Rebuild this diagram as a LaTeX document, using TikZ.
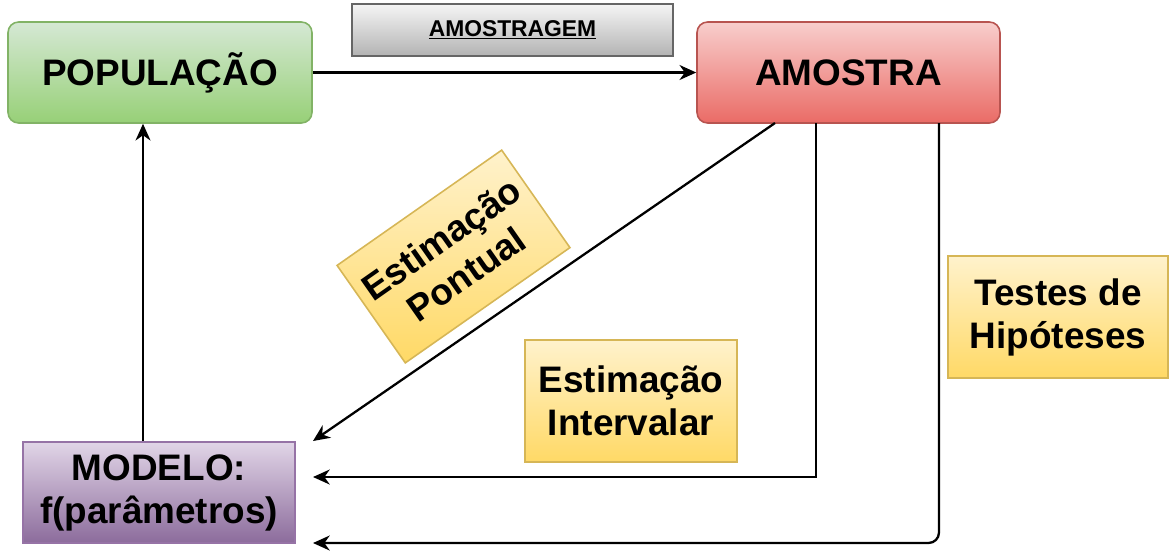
\documentclass[tikz,border=0pt]{standalone}
\usepackage{fontspec}
\setmainfont{Liberation Sans}
\usetikzlibrary{arrows.meta}

\definecolor{verdeA}{HTML}{D5E8D4}
\definecolor{verdeB}{HTML}{97D077}
\definecolor{verdeL}{HTML}{82B366}
\definecolor{vermA}{HTML}{F8CECC}
\definecolor{vermB}{HTML}{EA6B66}
\definecolor{vermL}{HTML}{B85450}
\definecolor{cinzaA}{HTML}{F5F5F5}
\definecolor{cinzaB}{HTML}{B3B3B3}
\definecolor{cinzaL}{HTML}{666666}
\definecolor{roxoA}{HTML}{E1D5E7}
\definecolor{roxoB}{HTML}{8C6C9C}
\definecolor{roxoL}{HTML}{9673A6}
\definecolor{amarA}{HTML}{FFF2CC}
\definecolor{amarB}{HTML}{FFD966}
\definecolor{amarL}{HTML}{D6B656}

\tikzset{
  caixa/.style={draw, line width=0.9pt, align=center, inner sep=0pt,
    font=\bfseries\fontsize{21}{24.5}\selectfont},
  verde/.style={caixa, draw=verdeL, top color=verdeA, bottom color=verdeB, rounded corners=6pt},
  vermelho/.style={caixa, draw=vermL, top color=vermA, bottom color=vermB, rounded corners=6pt},
  cinza/.style={caixa, draw=cinzaL, top color=cinzaA, bottom color=cinzaB,
    font=\bfseries\fontsize{13}{15}\selectfont},
  roxo/.style={caixa, draw=roxoL, top color=roxoA, bottom color=roxoB},
  amarelo/.style={caixa, draw=amarL, top color=amarA, bottom color=amarB},
  seta/.style={line width=1.3pt, -{Stealth[length=9.5pt,width=8.5pt,inset=3pt]}}
}

\begin{document}
\begin{tikzpicture}[x=0.02cm,y=-0.02cm]
\useasboundingbox (0,0) rectangle (1173,556);

\node[verde, minimum width=6.08cm, minimum height=2.02cm] (pop) at (160,72.5) {POPULAÇÃO};
\node[vermelho, minimum width=6.06cm, minimum height=2.02cm] (amostra) at (848.5,72.5) {AMOSTRA};
\node[cinza, minimum width=6.42cm, minimum height=1.04cm] (amostragem) at (512.5,30) {\underline{AMOSTRAGEM}};
\node[roxo, minimum width=5.44cm, minimum height=2.02cm] (modelo) at (159,492.5) {MODELO:\\f(parâmetros)};

\node[amarelo, rotate=35, minimum width=4.02cm, minimum height=2.38cm] (pontual) at (453.5,256.5) {Estimação\\Pontual};
\node[amarelo, minimum width=4.24cm, minimum height=2.44cm] (intervalar) at (631,401) {Estimação\\Intervalar};
\node[amarelo, minimum width=4.4cm, minimum height=2.44cm] (testes) at (1058,317) {Testes de\\Hipóteses};

\coordinate (s1) at (775,123);
\coordinate (s2) at (816,123);
\coordinate (s3) at (939,123);
\coordinate (alvo1) at (313,441);
\coordinate (alvo2) at (313,477);
\coordinate (alvo3) at (313,543);

\draw[seta] (pop.east) -- (amostra.west);
\draw[seta] ([xshift=-0.32cm]modelo.north) -- ([xshift=-0.32cm]modelo.north |- pop.south);
\draw[seta] (s1) -- (alvo1);
\draw[seta] (s2) |- (alvo2);
\draw[seta, rounded corners=6pt] (s3) |- (alvo3);
\end{tikzpicture}
\end{document}
